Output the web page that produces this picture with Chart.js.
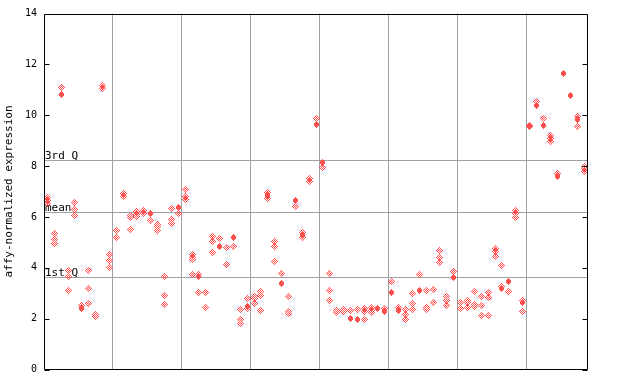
<!DOCTYPE html>
<html>
<head>
<meta charset="utf-8">
<script src="https://cdn.jsdelivr.net/npm/chart.js@4.4.1/dist/chart.umd.min.js"></script>
<style>
html,body{margin:0;padding:0;background:#fff;}
#wrap{width:640px;height:384px;}
</style>
</head>
<body>
<div id="wrap"><canvas id="c" width="640" height="384"></canvas></div>
<script>
// ---- data ----
// one entry per sample (x = 0..78); values of the dithered (open) diamonds
const openValues = [
  [6.78,6.66,6.53],[5.35,5.11,4.95],[11.09],[3.90,3.64,3.12],[6.57,6.29,6.06],
  [2.52],[3.90,3.18,2.60],[2.17,2.10],[11.17,11.06],[4.53,4.30,4.01],
  [5.48,5.19],[6.92,6.81],[6.07,5.98,5.51],[6.20,6.11,6.00],[6.26,6.13],
  [5.87],[5.71,5.61,5.45],[3.64,2.91,2.56],[6.33,5.91,5.76],[6.13],
  [7.08,6.81,6.70],[4.53,4.40,4.34,3.74],[3.74,3.03],[3.03,2.44],[5.24,5.05,4.60],
  [5.15],[4.80,4.13],[4.84],[2.36,1.97,1.80],[2.79,2.40],
  [2.88,2.79,2.60],[3.08,2.92,2.32],[6.96,6.72],[5.05,4.82,4.25],[3.78],
  [2.87,2.30,2.21],[6.41],[5.40,5.20],[7.51,7.38],[9.87],
  [7.94],[3.78,3.11,2.71],[2.33,2.23],[2.37,2.29],[2.33],
  [2.37],[2.38,2.28,1.97],[2.42,2.33,2.23],[],[2.41],
  [3.46],[2.42],[2.36,2.16,1.97],[2.99,2.60,2.36],[3.74],
  [3.12,2.44,2.36],[3.16,2.63],[4.68,4.40,4.21],[2.88,2.70,2.52],[3.87],
  [2.63,2.40],[2.73,2.62,2.44],[3.08,2.56,2.46],[2.88,2.52,2.12],[3.04,2.83,2.12],
  [4.77,4.63,4.46],[4.09,3.28],[3.07],[6.24,6.13,5.98],[2.73,2.28],
  [9.61,9.54],[10.55],[9.87],[9.21,9.08,8.95],[7.71],
  [],[],[9.93,9.54],[8.00,7.90,7.77]
];
// values of the solid diamonds (null = none)
const solidValues = [
  null,null,10.83,null,null,2.41,null,null,null,null,
  null,null,null,null,null,6.13,null,null,null,6.39,
  null,null,3.64,null,null,4.82,null,5.21,null,2.49,
  null,null,6.83,null,3.37,null,6.63,5.32,null,9.65,
  8.16,null,null,null,2.00,1.95,null,null,2.38,2.30,
  3.01,2.33,null,null,3.09,null,null,null,null,3.63,
  null,null,null,null,null,null,3.18,3.45,null,2.65,
  null,10.39,9.61,null,7.60,11.64,10.79,9.83,null
];
const yTicks = [0,2,4,6,8,10,12,14];
const gridPositions = [9.5,19.5,29.5,39.5,49.5,59.5,69.5];
const quartiles = [
  {label:'3rd Q', value:8.23},
  {label:'mean',  value:6.21},
  {label:'1st Q', value:3.62}
];
const yTitle = 'affy-normalized expression';

// ---- styling ----
const RED = '#ff5050';
const GRID = '#a0a0a0';
function makeDiamond(filled){
  const c = document.createElement('canvas');
  c.width = 7; c.height = 7;
  const g = c.getContext('2d');
  g.fillStyle = RED;
  for (let y=0;y<7;y++) for (let x=0;x<7;x++){
    const d = Math.abs(x-3)+Math.abs(y-3);
    if (d>3) continue;
    if (filled){ if (Math.abs(x-3)<=2) g.fillRect(x,y,1,1); }
    else if ((x+y)%2===1) g.fillRect(x,y,1,1);
  }
  return c;
}
const openImg = makeDiamond(false);
const solidImg = makeDiamond(true);

const openPts = [];
openValues.forEach((arr,i)=>arr.forEach(v=>openPts.push({x:i,y:v})));
const solidPts = [];
solidValues.forEach((v,i)=>{ if (v!==null) solidPts.push({x:i,y:v}); });

const framePlugin = {
  id:'frame',
  beforeDatasetsDraw(chart){
    const {ctx, chartArea:a, scales:{y}} = chart;
    ctx.save();
    ctx.strokeStyle = GRID; ctx.lineWidth = 1;
    ctx.font = '11px "DejaVu Sans Mono", monospace';
    ctx.fillStyle = '#000'; ctx.textBaseline = 'alphabetic'; ctx.textAlign='left';
    quartiles.forEach(q=>{
      const py = Math.round(y.getPixelForValue(q.value))+0.5;
      ctx.beginPath(); ctx.moveTo(a.left,py); ctx.lineTo(a.right,py); ctx.stroke();
      ctx.fillText(q.label, a.left+1, py-1.5);
    });
    ctx.restore();
    ctx.imageSmoothingEnabled = false;
  },
  afterDatasetsDraw(chart){
    const {ctx, chartArea:a, scales:{y}} = chart;
    ctx.save();
    ctx.strokeStyle = '#000'; ctx.lineWidth = 1;
    const L = Math.round(a.left)+0.5, R = Math.round(a.right)-0.5;
    const T = Math.round(a.top)+0.5, B = Math.round(a.bottom)-0.5;
    ctx.beginPath();
    ctx.moveTo(L,T); ctx.lineTo(R,T); ctx.lineTo(R,B); ctx.lineTo(L,B); ctx.closePath();
    ctx.stroke();
    yTicks.forEach(v=>{
      const py = Math.round(y.getPixelForValue(v))+0.5;
      ctx.beginPath();
      ctx.moveTo(L,py); ctx.lineTo(L+5,py);
      ctx.moveTo(R,py); ctx.lineTo(R-5,py);
      ctx.stroke();
    });
    ctx.restore();
  }
};

new Chart(document.getElementById('c'), {
  type:'scatter',
  data:{datasets:[
    {data:openPts, pointStyle:openImg, pointRadius:3.5, showLine:false},
    {data:solidPts, pointStyle:solidImg, pointRadius:3.5, showLine:false}
  ]},
  options:{
    responsive:false, animation:false, devicePixelRatio:1,
    layout:{padding:{left:0, top:13.5, right:52, bottom:14.5}},
    plugins:{legend:{display:false}, tooltip:{enabled:false}},
    scales:{
      x:{type:'linear', min:-0.5, max:78.5,
        afterBuildTicks(ax){ ax.ticks = gridPositions.map(v=>({value:v})); },
        ticks:{display:false},
        grid:{color:GRID, lineWidth:1, drawTicks:false},
        border:{display:false}
      },
      y:{type:'linear', min:0, max:14,
        afterBuildTicks(ax){ ax.ticks = yTicks.map(v=>({value:v})); },
        afterFit(s){ s.width = 44; },
        ticks:{padding:7, color:'#000', font:{family:'"DejaVu Sans Mono", monospace', size:10}},
        grid:{display:false, drawTicks:false},
        border:{display:false},
        title:{display:true, text:yTitle, color:'#000', padding:{top:3,bottom:0},
          font:{family:'"DejaVu Sans Mono", monospace', size:11}}
      }
    }
  },
  plugins:[framePlugin]
});
</script>
</body>
</html>
